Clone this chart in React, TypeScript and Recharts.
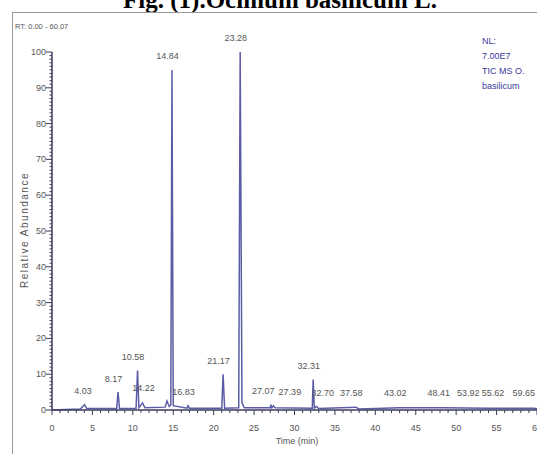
import React from "react"
import { ComposedChart, Line, Scatter, XAxis, YAxis, LabelList } from "recharts"

// chromatogram trace (time in min, relative abundance %)
const traceTime = [
  0, 3.5, 4.03, 4.3, 8.0, 8.17, 8.35, 10.4, 10.58, 10.75, 11.2, 11.5, 14.0, 14.22, 14.5, 14.7, 14.84, 15.0,
  16.7, 16.83, 17.0, 21.0, 21.17, 21.35, 23.1, 23.28, 23.5, 23.8, 27.0, 27.07, 27.2, 27.39, 27.6, 32.2,
  32.31, 32.45, 32.7, 33.0, 37.58, 38.0, 43.02, 48.41, 53.92, 55.62, 59.65, 60.07,
]
const traceAbundance = [
  0, 0.3, 1.5, 0.4, 0.4, 5, 0.4, 0.5, 11, 0.6, 2, 0.6, 0.8, 2.5, 1, 1.5, 95, 1.2,
  0.5, 1.2, 0.5, 0.5, 10, 0.5, 0.6, 100, 2, 0.6, 0.6, 1.5, 0.6, 1.2, 0.6, 0.5,
  8.5, 0.5, 1, 0.4, 0.8, 0.3, 0.6, 0.6, 0.5, 0.5, 0.5, 0.3,
]

// labelled peaks
const peakTimes = [4.03, 8.17, 10.58, 14.22, 14.84, 16.83, 21.17, 23.28, 27.07, 27.39, 32.31, 32.7, 37.58, 43.02, 48.41, 53.92, 55.62, 59.65]
const peakLabels = ["4.03", "8.17", "10.58", "14.22", "14.84", "16.83", "21.17", "23.28", "27.07", "27.39", "32.31", "32.70", "37.58", "43.02", "48.41", "53.92", "55.62", "59.65"]
const peakHeights = [1.5, 5, 11, 2.5, 95, 1.2, 10, 100, 1.5, 1.2, 8.5, 1, 0.8, 0.6, 0.6, 0.5, 0.5, 0.5]

const xTicks = Array.from({ length: 61 }, (_, i) => i)
const yTicks = Array.from({ length: 101 }, (_, i) => i)

const trace = traceTime.map((t, i) => ({ t, a: traceAbundance[i] }))
const peaks = peakTimes.map((t, i) => ({ t, a: Math.max(peakHeights[i], 1), label: peakLabels[i] }))

// horizontal nudges so crowded peak labels don't collide (px)
const labelNudge: Record<string, number> = { "4.03": 3, "14.22": -19, "27.07": -3, "27.39": 21, "32.70": 11, "53.92": -15, "55.62": -4, "59.65": -6 }

const AXIS = "#3b3b5c"
const TEXT = "#555"
const FONT = "'Liberation Sans', Arial, sans-serif"

const YTick = (props: any) => {
  const { x, y, payload } = props
  const major = payload.value % 10 === 0
  return (
    <g>
      <line x1={x - (major ? 6 : 2.5)} x2={x} y1={y} y2={y} stroke={AXIS} strokeWidth={1} />
      {major && (
        <text x={x - 6} y={y + 3} textAnchor="end" fontSize={9} fill={TEXT} fontFamily={FONT}>
          {payload.value}
        </text>
      )}
    </g>
  )
}

const XTick = (props: any) => {
  const { x, y, payload } = props
  const major = payload.value % 5 === 0
  return (
    <g>
      <line x1={x} x2={x} y1={y} y2={y + (major ? 5 : 3)} stroke={AXIS} strokeWidth={1} />
      {major && (
        <text x={x} y={y + 21} textAnchor="middle" fontSize={9} fill={TEXT} fontFamily={FONT}>
          {payload.value}
        </text>
      )}
    </g>
  )
}

const PeakLabel = (props: any) => {
  const { x, y, value } = props
  return (
    <text x={x + (labelNudge[value] || 0)} y={y - 6} textAnchor="middle" fontSize={9} fill={TEXT} fontFamily={FONT}>
      {value}
    </text>
  )
}

export default function App() {
  return (
    <div style={{ position: "fixed", left: 0, top: 0, width: 537, height: 454, background: "#fff", overflow: "hidden" }}>
      <div style={{ position: "absolute", left: 0, top: 0 }}>
        <ComposedChart width={537} height={454} margin={{ top: 52, right: 0, bottom: 14, left: 0 }}>
          <XAxis
            type="number"
            dataKey="t"
            domain={[0, 60]}
            ticks={xTicks}
            interval={0}
            tickSize={0}
            tickMargin={0}
            tickLine={false}
            tick={<XTick />}
            stroke={AXIS}
            strokeWidth={1.5}
            allowDataOverflow
          />
          <YAxis
            type="number"
            domain={[0, 100]}
            ticks={yTicks}
            interval={0}
            width={52}
            tickSize={0}
            tickMargin={0}
            tickLine={false}
            tick={<YTick />}
            stroke={AXIS}
            strokeWidth={1.5}
          />
          <Line
            data={trace}
            dataKey="a"
            type="linear"
            stroke="#5c5ca6"
            strokeWidth={1.5}
            dot={false}
            isAnimationActive={false}
          />
          <Scatter data={peaks} dataKey="a" shape={() => null} isAnimationActive={false}>
            <LabelList dataKey="label" content={<PeakLabel />} />
          </Scatter>
        </ComposedChart>
      </div>
      <svg width={537} height={454} style={{ position: "absolute", left: 0, top: 0, pointerEvents: "none" }}>
        <text
          x={280}
          y={8}
          textAnchor="middle"
          fontFamily="'Liberation Serif', 'Times New Roman', serif"
          fontWeight="bold"
          fontSize={25}
        >
          Fig. (1).Ocimum basilicum L.
        </text>
        <line x1={12} x2={537} y1={12.5} y2={12.5} stroke="#999" />
        <line x1={12.5} x2={12.5} y1={12} y2={454} stroke="#999" />
        <text x={15} y={29} fontSize={7.5} fill={TEXT} fontFamily={FONT}>
          RT: 0.00 - 60.07
        </text>
        <g fontSize={9} fill="#3a3a9a" fontFamily={FONT}>
          <text x={482} y={44}>NL:</text>
          <text x={482} y={59}>7.00E7</text>
          <text x={482} y={74}>TIC MS O.</text>
          <text x={482} y={89}>basilicum</text>
        </g>
        <text
          x={0}
          y={0}
          transform="translate(28,230) rotate(-90)"
          textAnchor="middle"
          fontSize={10}
          letterSpacing={1.5}
          fill={TEXT}
          fontFamily={FONT}
        >
          Relative Abundance
        </text>
        <text x={297} y={444} textAnchor="middle" fontSize={9} fill={TEXT} fontFamily={FONT}>
          Time (min)
        </text>
      </svg>
    </div>
  )
}
